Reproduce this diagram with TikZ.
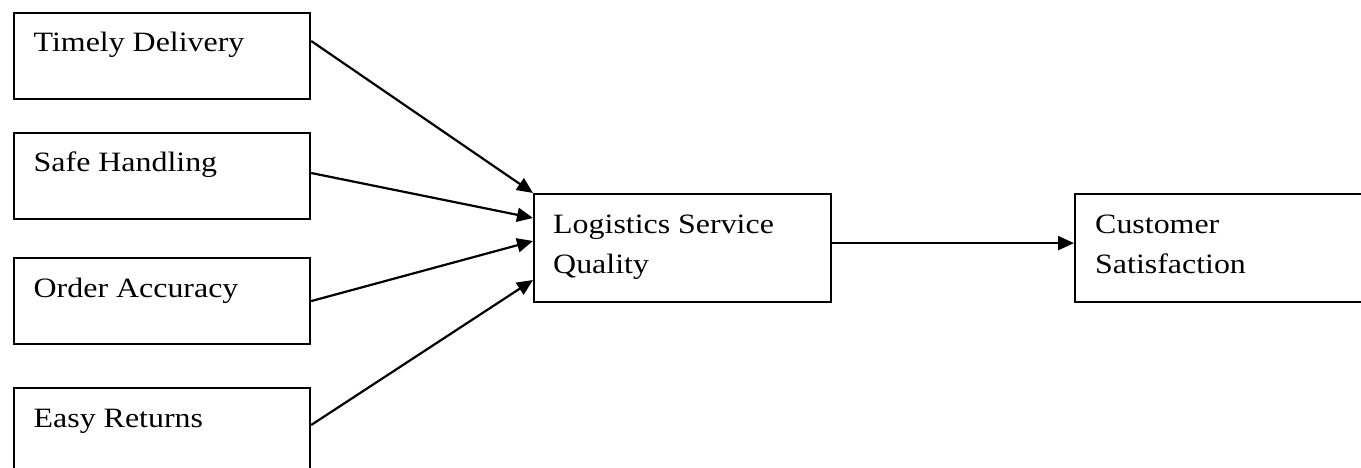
\documentclass[tikz,border=0pt]{standalone}
\usepackage{fontspec}
\newfontfamily\boxfont[FakeStretch=1.14]{Liberation Serif}
\usetikzlibrary{arrows.meta,calc}

\tikzset{
  box/.style={draw, line width=2.2pt, rectangle, inner sep=0pt, anchor=north west,
              minimum width=296.5pt, minimum height=86pt},
  widebox/.style={box, minimum height=108pt},
  lbl/.style={anchor=base west, inner sep=0pt, align=left,
              font=\boxfont\fontsize{28}{40}\selectfont},
  arr/.style={line width=2.2pt, -{Triangle[length=16pt,width=14pt]}}
}

\begin{document}
\begin{tikzpicture}[x=1pt, y=-1pt]
  \useasboundingbox (0,0) rectangle (1361,468);
  \clip (0,0) rectangle (1361,468);

  % the four factors on the left
  \node[box] (td) at (12.5,12) {};
  \node[box] (sh) at (12.5,132) {};
  \node[box] (oa) at (12.5,257) {};
  \node[box, minimum height=100pt] (er) at (12.5,387) {};

  % mediator and outcome
  \node[widebox] (lsq) at (533,193) {};
  \node[widebox, minimum width=330pt] (cs) at (1074,193) {};

  % box captions (base anchor sits on the last line)
  \node[lbl] (tdl) at ([xshift=21pt,yshift=-40pt]td.north west) {Timely Delivery};
  \node[lbl] (shl) at ([xshift=21pt,yshift=-40pt]sh.north west) {Safe Handling};
  \node[lbl] (oal) at ([xshift=21pt,yshift=-40pt]oa.north west) {Order Accuracy};
  \node[lbl] (erl) at ([xshift=21pt,yshift=-40pt]er.north west) {Easy Returns};
  \node[lbl] (lsql) at ([xshift=20pt,yshift=-80pt]lsq.north west) {Logistics Service\\Quality};
  \node[lbl] (csl) at ([xshift=21pt,yshift=-80pt]cs.north west) {Customer\\Satisfaction};

  % connectors
  \draw[arr] ([yshift=-29pt]td.north east) -- (lsq.north west);
  \draw[arr] ([yshift=-41pt]sh.north east) -- ([yshift=-25pt]lsq.north west);
  \draw[arr] (oa.east) -- ([yshift=-48pt]lsq.north west);
  \draw[arr] ([yshift=-38pt]er.north east) -- ([yshift=-87pt]lsq.north west);
  \draw[arr] ([yshift=5pt]lsq.east) -- ([yshift=5pt]cs.west);
\end{tikzpicture}
\end{document}
